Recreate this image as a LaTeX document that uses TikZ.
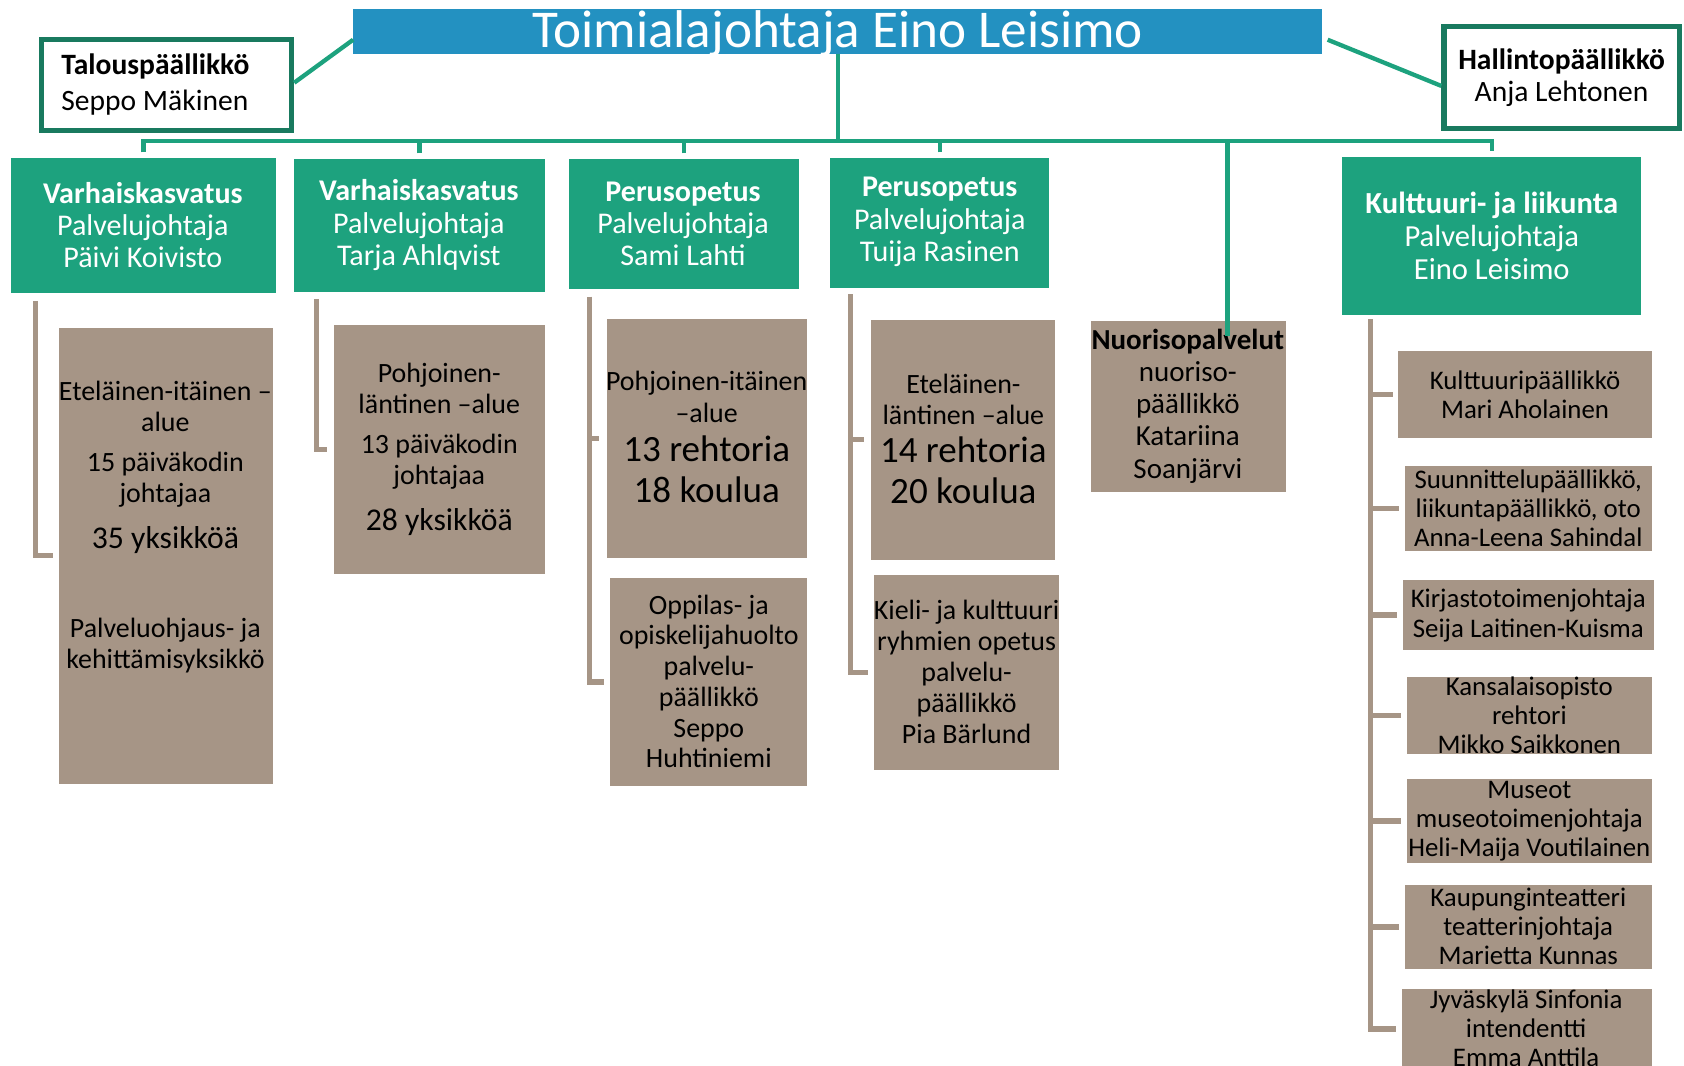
\documentclass[tikz,border=0pt]{standalone}
\usepackage{fontspec}
\setmainfont{Carlito}
\usetikzlibrary{fit,calc}
\definecolor{titleblue}{RGB}{35,145,193}
\definecolor{boxgreen}{RGB}{29,162,126}
\definecolor{darkgreen}{RGB}{25,122,95}
\definecolor{taupe}{RGB}{166,149,134}
\tikzset{
 gbox/.style={fill=boxgreen, inner sep=0pt, draw=none},
 tbox/.style={fill=taupe, inner sep=0pt, draw=none},
 obox/.style={draw=darkgreen, line width=5pt, fill=white, inner sep=0pt},
 gline/.style={draw=boxgreen, line width=4pt},
 bline/.style={draw=taupe, line width=5pt},
 wtxt/.style={text=white, align=center, inner sep=0pt, font=\fontsize{28}{30}\selectfont},
 ktxt/.style={text=black, align=center, inner sep=0pt, font=\fontsize{26}{29}\selectfont},
 rtxt/.style={text=black, align=center, inner sep=0pt, font=\fontsize{25}{27}\selectfont},
 bigtxt/.style={text=black, align=center, inner sep=0pt, font=\fontsize{34.5}{38}\selectfont},
 midtxt/.style={text=black, align=center, inner sep=0pt, font=\fontsize{29.5}{34}\selectfont},
}
\begin{document}
\begin{tikzpicture}[x=1pt,y=-1pt]
\useasboundingbox (0,0) rectangle (1568,992);
\fill[white] (0,0) rectangle (1568,992);

% title
\node[fill=titleblue, inner sep=0pt, fit={(329,8)(1231,50)}] (title) {};
\node[text=white, inner sep=0pt, anchor=base, font=\fontsize{49.5}{58}\selectfont] (titlet) at (780,44) {Toimialajohtaja Eino Leisimo};

% side boxes
\node[obox, fit={(38.5,36.5)(271.5,121.5)}] (talous) {};
\node[ktxt, align=left, anchor=west, font=\fontsize{27.5}{33}\selectfont] (taloust) at (57,78.5) {\textbf{Talouspäällikkö}\\Seppo Mäkinen};
\node[obox, fit={(1344.5,24.5)(1563.5,119.5)}] (hallinto) {};
\node[ktxt, font=\fontsize{27.5}{30}\selectfont] (hallintot) at (1454,72) {\textbf{Hallintopäällikkö}\\Anja Lehtonen};

% green boxes
\node[gbox, fit={(10,147)(257,273)}] (v1) {};
\node[wtxt] (v1t) at (133,209.7) {\textbf{Varhaiskasvatus}\\Palvelujohtaja\\Päivi Koivisto};
\node[gbox, fit={(274,148)(507,272)}] (v2) {};
\node[wtxt] (v2t) at (390,209.7) {\textbf{Varhaiskasvatus}\\Palvelujohtaja\\Tarja Ahlqvist};
\node[gbox, fit={(530,148)(744,269)}] (p3) {};
\node[wtxt] (p3t) at (636,208.3) {\textbf{Perusopetus}\\Palvelujohtaja\\Sami Lahti};
\node[gbox, fit={(773,147)(977,268)}] (p4) {};
\node[wtxt] (p4t) at (875,206.7) {\textbf{Perusopetus}\\Palvelujohtaja\\Tuija Rasinen};
\node[gbox, fit={(1250,146)(1528,293)}] (k5) {};
\node[wtxt, font=\fontsize{28.5}{31}\selectfont] (k5t) at (1389,219.7) {\textbf{Kulttuuri- ja liikunta}\\Palvelujohtaja\\Eino Leisimo};

% taupe boxes
\node[tbox, fit={(55,305)(254,730)}] (e1) {};
\node[ktxt] (e1a) at (154,378.5) {Eteläinen-itäinen –\\alue};
\node[ktxt] (e1b) at (154,446.5) {15 päiväkodin\\johtajaa};
\node[midtxt] (e1c) at (154,503) {35 yksikköä};
\node[ktxt] (e1d) at (154,601) {Palveluohjaus- ja\\kehittämisyksikkö};

\node[tbox, fit={(311,303)(507,534)}] (pl) {};
\node[ktxt] (pla) at (409,361.5) {Pohjoinen-\\läntinen –alue};
\node[ktxt] (plb) at (409,429.5) {13 päiväkodin\\johtajaa};
\node[midtxt] (plc) at (409,486) {28 yksikköä};

\node[tbox, fit={(565,297)(751,520)}] (pi) {};
\node[ktxt] (pia) at (658,369.5) {Pohjoinen-itäinen\\–alue};
\node[bigtxt] (pib) at (658,437) {13 rehtoria\\18 koulua};

\node[tbox, fit={(568,538)(751,732)}] (op) {};
\node[ktxt, font=\fontsize{26}{28.6}\selectfont] (opt) at (660,634.5) {Oppilas- ja\\opiskelijahuolto\\palvelu-\\päällikkö\\Seppo\\Huhtiniemi};

\node[tbox, fit={(811,298)(982,521)}] (el) {};
\node[ktxt] (ela) at (897,371.5) {Eteläinen-\\läntinen –alue};
\node[bigtxt] (elb) at (897,438) {14 rehtoria\\20 koulua};

\node[tbox, fit={(814,535)(986,717)}] (ki) {};
\node[ktxt, font=\fontsize{26}{28.75}\selectfont] (kit) at (900,625.5) {Kieli- ja kulttuuri\\ryhmien opetus\\palvelu-\\päällikkö\\Pia Bärlund};

\node[tbox, fit={(1016,299)(1197,458)}] (nuor) {};
\node[ktxt, font=\fontsize{27}{30}\selectfont] (nuort) at (1106,378) {\textbf{Nuorisopalvelut}\\nuoriso-\\päällikkö\\Katariina\\Soanjärvi};

% right column
\node[tbox, fit={(1302,327)(1538,408)}] (r1) {};
\node[rtxt] (r1t) at (1420,367.5) {Kulttuuripäällikkö\\Mari Aholainen};
\node[tbox, fit={(1308,434)(1538,513)}] (r2) {};
\node[rtxt] (r2t) at (1423,473) {Suunnittelupäällikkö,\\liikuntapäällikkö, oto\\Anna-Leena Sahindal};
\node[tbox, fit={(1306,540)(1540,605)}] (r3) {};
\node[rtxt, font=\fontsize{25}{28}\selectfont] (r3t) at (1423,573) {Kirjastotoimenjohtaja\\Seija Laitinen-Kuisma};
\node[tbox, fit={(1310,630)(1538,702)}] (r4) {};
\node[rtxt] (r4t) at (1424,665.7) {Kansalaisopisto\\rehtori\\Mikko Saikkonen};
\node[tbox, fit={(1310,725)(1538,804)}] (r5) {};
\node[rtxt] (r5t) at (1424,765) {Museot\\museotoimenjohtaja\\Heli-Maija Voutilainen};
\node[tbox, fit={(1308,824)(1538,902)}] (r6) {};
\node[rtxt] (r6t) at (1423,862.7) {Kaupunginteatteri\\teatterinjohtaja\\Marietta Kunnas};
\node[tbox, fit={(1305,921)(1538,995)}] (r7) {};
\node[rtxt] (r7t) at (1421,957.3) {Jyväskylä Sinfonia\\intendentti\\Emma Anttila};

% green connectors
\coordinate (bus) at (780,131);
\draw[gline] ([yshift=-8pt]title.west) -- ([yshift=2pt]talous.east);
\draw[gline] ([xshift=5pt,yshift=-8pt]title.east) -- ([yshift=-8pt]hallinto.west);
\draw[gline] (title.south) -- (bus);
\draw[gline] ([yshift=5pt]v1.north) |- (bus) -| ([yshift=5pt]k5.north);
\draw[gline] ([yshift=5pt]v2.north) -- (v2.north |- bus);
\draw[gline] ([yshift=5pt]p3.north) -- (p3.north |- bus);
\draw[gline] ([yshift=5pt]p4.north) -- (p4.north |- bus);
\coordinate (nj) at ($(nuor.north)+(36.5,14)$);
\draw[gline] (nj) -- (nj |- bus);

% taupe brackets
\coordinate (b1s) at ($(v1.south west)+(23,7)$);
\draw[bline] (b1s) |- ([xshift=-5pt]e1.west);
\coordinate (b2s) at ($(v2.south west)+(21,6)$);
\draw[bline] (b2s) |- ([xshift=-6pt]pl.west);
\coordinate (b3s) at ($(p3.south west)+(19,7)$);
\draw[bline] (b3s) |- ([xshift=-5pt]op.west);
\draw[bline] (b3s |- pi.west) -- ([xshift=-7pt]pi.west);
\coordinate (b4s) at ($(p4.south west)+(19,6)$);
\draw[bline] (b4s) |- ([xshift=-6pt]ki.west);
\draw[bline] (b4s |- el.west) -- ([xshift=-6pt]el.west);
\coordinate (b5s) at ($(k5.south west)+(26,4)$);
\draw[bline] (b5s) |- ([xshift=-5pt]r7.west);
\foreach \r in {r1,r2,r3,r4,r5,r6} {
  \draw[bline] (b5s |- \r.west) -- ([xshift=-5pt]\r.west);
}
\end{tikzpicture}
\end{document}
